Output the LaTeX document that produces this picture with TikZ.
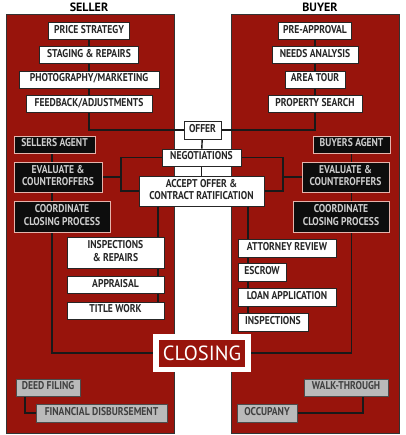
\documentclass[tikz,border=0pt]{standalone}
\usepackage{fontspec}
\usepackage{graphicx}
\setmainfont{PT Sans}
\newfontfamily\boxfont{PT Sans Bold}
\newcommand\bt[1]{\scalebox{0.85}[1]{\begin{tabular}{@{}c@{}}#1\end{tabular}}}
\definecolor{panelred}{RGB}{152,20,12}
\definecolor{pinkb}{RGB}{230,180,172}
\definecolor{lgray}{RGB}{205,205,205}
\definecolor{gfill}{RGB}{186,186,186}
\pgfdeclarelayer{panel}
\pgfdeclarelayer{lines}
\pgfsetlayers{panel,lines,main}
\begin{document}
\begin{tikzpicture}[x=1pt,y=-1pt,
  basebox/.style={line width=0.8pt, inner sep=0pt, minimum height=17pt,
     font=\boxfont\fontsize{11.3}{12.4}\selectfont},
  wbox/.style={basebox, draw=black!85, fill=white, text=black!85},
  bbox/.style={basebox, draw=pinkb, fill=black!95, text=lgray},
  gbox/.style={basebox, draw=black!70, fill=gfill, text=black!75},
  conn/.style={line width=1.4pt, draw=black!90},
  panelbox/.style={fill=panelred, draw=black!80, line width=0.6pt},
  title/.style={font=\bfseries\fontsize{12}{13}\selectfont, text=black}]
\useasboundingbox (0,0) rectangle (405,435);
% panels
\begin{pgfonlayer}{panel}
\fill[white] (0,0) rectangle (405,435);
\draw[panelbox] (6,14) rectangle (174,433);
\draw[panelbox] (231,14) rectangle (399,433);
\end{pgfonlayer}
\node[title] (seller) at (89,7) {SELLER};
\node[title] (buyer) at (320,7) {BUYER};
% seller listing
\node[wbox, minimum width=81pt] (price) at (89,31) {\bt{PRICE STRATEGY}};
\node[wbox, minimum width=99pt] (staging) at (89,55) {\bt{STAGING \& REPAIRS}};
\node[wbox, minimum width=140pt] (photo) at (89,79.5) {\bt{PHOTOGRAPHY/MARKETING}};
\node[wbox, minimum width=126pt] (feedback) at (89,104) {\bt{FEEDBACK/ADJUSTMENTS}};
% buyer search
\node[wbox, minimum width=73pt] (preapp) at (315,31) {\bt{PRE-APPROVAL}};
\node[wbox, minimum width=86pt] (needs) at (315,55) {\bt{NEEDS ANALYSIS}};
\node[wbox, minimum width=60pt] (tour) at (315,79.5) {\bt{AREA TOUR}};
\node[wbox, minimum width=94pt] (search) at (315,104) {\bt{PROPERTY SEARCH}};
% center
\node[wbox, minimum width=37pt, minimum height=18pt] (offer) at (202.5,130) {\bt{OFFER}};
\node[wbox, minimum width=79pt] (nego) at (201.5,157.5) {\bt{NEGOTIATIONS}};
\node[wbox, minimum width=125pt, minimum height=30pt] (accept) at (201.5,191) {\bt{ACCEPT OFFER \&\\CONTRACT RATIFICATION}};
% seller agent
\node[bbox, minimum width=81pt] (sagent) at (54.5,144.5) {\bt{SELLERS AGENT}};
\node[bbox, minimum width=88pt, minimum height=30pt] (seval) at (58,177) {\bt{EVALUATE \&\\COUNTEROFFERS}};
\node[bbox, minimum width=96pt, minimum height=31pt] (scoord) at (62,216.5) {\bt{COORDINATE\\CLOSING PROCESS}};
% buyer agent
\node[bbox, minimum width=77pt] (bagent) at (351.5,144.5) {\bt{BUYERS AGENT}};
\node[bbox, minimum width=87pt, minimum height=30pt] (beval) at (345.5,177) {\bt{EVALUATE \&\\COUNTEROFFERS}};
\node[bbox, minimum width=96pt, minimum height=31pt] (bcoord) at (341,216.5) {\bt{COORDINATE\\CLOSING PROCESS}};
% seller transaction
\node[wbox, minimum width=97pt, minimum height=31pt] (sinsp) at (115.5,252.5) {\bt{INSPECTIONS\\\& REPAIRS}};
\node[wbox, minimum width=97pt] (apprais) at (115.5,285) {\bt{APPRAISAL}};
\node[wbox, minimum width=97pt] (title) at (115.5,310.5) {\bt{TITLE WORK}};
% buyer transaction
\node[wbox, minimum width=98pt, minimum height=18pt] (attorney) at (287,248) {\bt{ATTORNEY REVIEW}};
\node[wbox, minimum width=48pt, minimum height=18pt] (escrow) at (262,272.5) {\bt{ESCROW}};
\node[wbox, minimum width=98pt, minimum height=18pt] (loan) at (287,297) {\bt{LOAN APPLICATION}};
\node[wbox, minimum width=70pt, minimum height=18pt] (binsp) at (273,322) {\bt{INSPECTIONS}};
% closing
\node[fill=white, minimum width=98pt, minimum height=38pt, inner sep=0pt] (closing) at (202,353) {};
\node[fill=panelred, minimum width=86pt, minimum height=27pt, inner sep=0pt, text=white,
  font=\fontsize{20.5}{21}\selectfont] (closingin) at (closing.center) {CLOSING};
% post closing
\node[gbox, minimum width=64pt] (deed) at (48,387.5) {\bt{DEED FILING}};
\node[gbox, minimum width=131pt, minimum height=18pt] (fin) at (101.5,413) {\bt{FINANCIAL DISBURSEMENT}};
\node[gbox, minimum width=84pt] (walk) at (346,387.5) {\bt{WALK-THROUGH}};
\node[gbox, minimum width=60pt, minimum height=18pt] (occ) at (267,413) {\bt{OCCUPANY}};
% helper coordinates
\coordinate (lbr) at (121,175);
\coordinate (rbr) at (283,175);
\coordinate (sl) at (158,300);
\coordinate (bl) at (248,300);
\coordinate (sa) at (52,300);
\coordinate (dl) at (25,400);
\coordinate (wl) at (363,400);
% connectors
\begin{pgfonlayer}{lines}
\draw[conn] (price.center) |- (offer.west);
\draw[conn] (preapp.center) |- (offer.east);
\draw[conn] (offer) -- (nego);
\draw[conn] (nego) -- (accept);
\draw[conn] (nego.west) -| (lbr) |- (accept.west);
\draw[conn] (seval.east) -- (seval.east -| lbr);
\draw[conn] (nego.east) -| (rbr) |- (accept.east);
\draw[conn] (beval.west) -- (beval.west -| rbr);
\draw[conn] (sagent.south -| sa) |- (closing.west);
\draw[conn] (bagent.south) |- (closing.east);
\draw[conn] (accept.south -| sl) -- (title.center -| sl);
\draw[conn] (accept.south -| bl) -- (binsp.center -| bl);
\draw[conn] (deed.south -| dl) |- (fin.west);
\draw[conn] (walk.south -| wl) |- (occ.east);
\end{pgfonlayer}
\end{tikzpicture}
\end{document}
